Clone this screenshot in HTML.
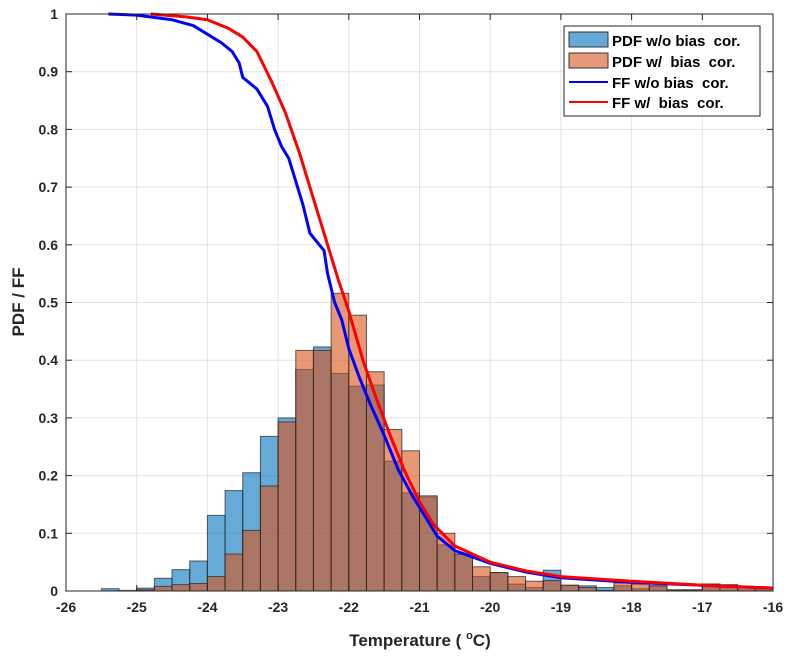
<!DOCTYPE html>
<html><head><meta charset="utf-8"><style>
body{margin:0;background:#fff;}
svg{font-family:"Liberation Sans",Arial,sans-serif;}
</style></head><body>
<svg id="chart" width="795" height="661" xmlns="http://www.w3.org/2000/svg">
<rect x="0" y="0" width="795" height="661" fill="#fff"/>
<g id="grid"></g>
<g id="bars"></g>
<g id="lines"></g>
<g id="axes"></g>
<text x="420" y="646" text-anchor="middle" font-size="17" font-weight="bold" fill="#262626">Temperature ( <tspan font-size="11" dy="-7">o</tspan><tspan dy="7">C)</tspan></text>
<text transform="translate(24,302) rotate(-90)" text-anchor="middle" font-size="17" font-weight="bold" fill="#262626">PDF / FF</text>
<g>
<rect x="564" y="26" width="196" height="90" fill="#fff" stroke="#262626" stroke-width="1"/>
<rect x="569" y="32" width="39" height="15" fill="#66aad7" stroke="#333"/>
<text x="612" y="46" font-size="15" font-weight="bold" fill="#000">PDF w/o bias&#160; cor.</text>
<rect x="569" y="53" width="39" height="15" fill="#e8987a" stroke="#333"/>
<text x="612" y="67" font-size="15" font-weight="bold" fill="#000">PDF w/&#160; bias&#160; cor.</text>
<line x1="569" y1="82" x2="608" y2="82" stroke="#0000ff" stroke-width="2"/>
<text x="612" y="88" font-size="15" font-weight="bold" fill="#000">FF w/o bias&#160; cor.</text>
<line x1="569" y1="102" x2="608" y2="102" stroke="#ff0000" stroke-width="2"/>
<text x="612" y="108" font-size="15" font-weight="bold" fill="#000">FF w/&#160; bias&#160; cor.</text>
</g>
</svg>
<script>
const binStarts = [-25.5,-25.25,-25,-24.75,-24.5,-24.25,-24,-23.75,-23.5,-23.25,-23,-22.75,-22.5,-22.25,-22,-21.75,-21.5,-21.25,-21,-20.75,-20.5,-20.25,-20,-19.75,-19.5,-19.25,-19,-18.75,-18.5,-18.25,-18,-17.75,-17.5,-17.25,-17,-16.75,-16.5,-16.25];
const pdfRaw = [0.004,0.001,0.005,0.022,0.037,0.052,0.131,0.174,0.205,0.268,0.300,0.384,0.423,0.377,0.355,0.357,0.225,0.170,0.163,0.080,0.064,0.025,0.032,0.012,0.006,0.036,0.010,0.009,0.006,0.009,0.004,0.009,0.002,0.002,0.012,0.011,0.007,0.004];
const pdfCor = [0,0,0.002,0.008,0.011,0.013,0.025,0.064,0.105,0.182,0.293,0.417,0.417,0.516,0.478,0.380,0.280,0.243,0.165,0.100,0.064,0.042,0.032,0.025,0.017,0.018,0.010,0.006,0.001,0.014,0.012,0.009,0.002,0.002,0.012,0.010,0.007,0.004];
const ffRawX = [-25.4,-25,-24.5,-24.2,-24,-23.8,-23.65,-23.55,-23.5,-23.3,-23.15,-23.05,-22.95,-22.85,-22.75,-22.65,-22.55,-22.45,-22.35,-22.3,-22.2,-22.1,-22,-21.85,-21.7,-21.5,-21.3,-21.1,-20.9,-20.75,-20.5,-20,-19.5,-19,-18,-17,-16];
const ffRawY = [1.0,0.998,0.99,0.98,0.965,0.95,0.935,0.915,0.89,0.87,0.84,0.80,0.77,0.75,0.71,0.67,0.62,0.605,0.59,0.55,0.50,0.47,0.42,0.37,0.325,0.27,0.21,0.165,0.125,0.095,0.07,0.048,0.033,0.023,0.015,0.01,0.005];
const ffCorX = [-24.8,-24.3,-24,-23.7,-23.5,-23.3,-23.1,-22.9,-22.7,-22.5,-22.3,-22.15,-22,-21.8,-21.6,-21.4,-21.2,-21,-20.8,-20.5,-20,-19.5,-19,-18,-17,-16];
const ffCorY = [1,0.995,0.99,0.975,0.96,0.935,0.885,0.83,0.76,0.68,0.60,0.54,0.485,0.40,0.33,0.265,0.205,0.155,0.115,0.078,0.05,0.035,0.025,0.017,0.01,0.005];
const xTicks = [-26,-25,-24,-23,-22,-21,-20,-19,-18,-17,-16];
const yTicks = [0,0.1,0.2,0.3,0.4,0.5,0.6,0.7,0.8,0.9,1];
const binW = 0.25;

const X0=66,X1=773,Y0=591,Y1=14;
const sx = v => X0 + (v+26)/10*(X1-X0);
const sy = v => Y0 - v*(Y0-Y1);
const NS="http://www.w3.org/2000/svg";
function mk(parent,tag,attrs){const e=document.createElementNS(NS,tag);for(const k in attrs)e.setAttribute(k,attrs[k]);document.getElementById(parent).appendChild(e);return e;}

xTicks.forEach((t,i)=>{
  const g=mk('grid','line',{x1:sx(t),x2:sx(t),y1:Y1,y2:Y0,stroke:'#e3e3e3','stroke-width':1});
  
  
  const tx=mk('axes','text',{x:sx(t),y:Y0+21,'text-anchor':'middle','font-size':14,'font-weight':'bold',fill:'#262626'});
  tx.textContent=String(t);
  
  
  mk('axes','line',{x1:sx(t),x2:sx(t),y1:Y0,y2:Y0-6,stroke:'#262626'});
  mk('axes','line',{x1:sx(t),x2:sx(t),y1:Y1,y2:Y1+6,stroke:'#262626'});
});
yTicks.forEach(t=>{
  const g=mk('grid','line',{x1:X0,x2:X1,y1:sy(t),y2:sy(t),stroke:'#e3e3e3','stroke-width':1});
  
  
  const tx=mk('axes','text',{x:X0-8,y:sy(t)+5,'text-anchor':'end','font-size':14,'font-weight':'bold',fill:'#262626'});
  tx.textContent=String(t);
  
  
  mk('axes','line',{x1:X0,x2:X0+6,y1:sy(t),y2:sy(t),stroke:'#262626'});
  mk('axes','line',{x1:X1,x2:X1-6,y1:sy(t),y2:sy(t),stroke:'#262626'});
});
mk('axes','rect',{x:X0,y:Y1,width:X1-X0,height:Y0-Y1,fill:'none',stroke:'#262626','stroke-width':1});

binStarts.forEach((b,i)=>{
  const w=sx(b+binW)-sx(b);
  if(pdfRaw[i]>0){
    const r=mk('bars','rect',{x:sx(b),y:sy(pdfRaw[i]),width:w,height:Y0-sy(pdfRaw[i]),fill:'rgb(0,114,189)','fill-opacity':0.6,stroke:'#222','stroke-opacity':0.7,'stroke-width':1});
    
    
  }
});
binStarts.forEach((b,i)=>{
  const w=sx(b+binW)-sx(b);
  if(pdfCor[i]>0){
    const r=mk('bars','rect',{x:sx(b),y:sy(pdfCor[i]),width:w,height:Y0-sy(pdfCor[i]),fill:'rgb(217,83,25)','fill-opacity':0.6,stroke:'#222','stroke-opacity':0.7,'stroke-width':1});
    
    
  }
});
const l1=mk('lines','polyline',{points:ffRawX.map((x,i)=>sx(x)+','+sy(ffRawY[i])).join(' '),fill:'none',stroke:'#0000ff','stroke-width':3,'stroke-linejoin':'round'});


const l2=mk('lines','polyline',{points:ffCorX.map((x,i)=>sx(x)+','+sy(ffCorY[i])).join(' '),fill:'none',stroke:'#ff0000','stroke-width':3,'stroke-linejoin':'round'});


</script>
</body></html>
